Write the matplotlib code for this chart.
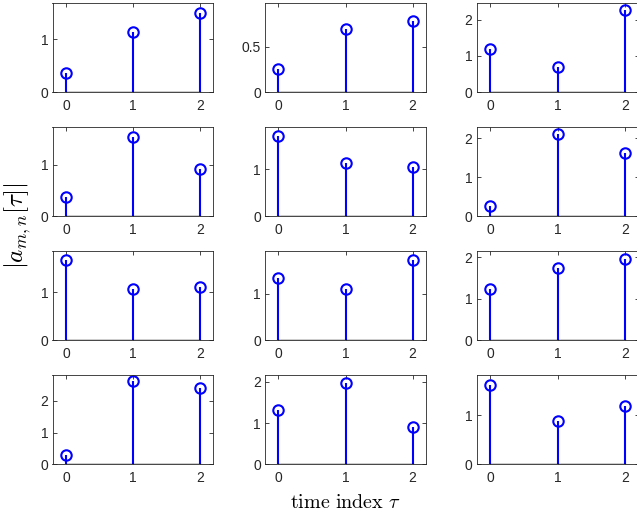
import matplotlib
matplotlib.use("Agg")
import matplotlib.pyplot as plt
import numpy as np
from matplotlib.ticker import FuncFormatter

plt.rcParams['font.family'] = ['Liberation Sans', 'DejaVu Sans']
plt.rcParams['mathtext.fontset'] = 'cm'

tau = [0, 1, 2]
row1 = [[0.366, 1.145, 1.49], [0.254, 0.70, 0.786], [1.196, 0.70, 2.265]]
row2 = [[0.364, 1.54, 0.916], [1.713, 1.128, 1.056], [0.25, 2.093, 1.62]]
row3 = [[1.66, 1.055, 1.10], [1.35, 1.093, 1.728], [1.225, 1.75, 1.96]]
row4 = [[0.283, 2.62, 2.42], [1.325, 1.966, 0.913], [1.62, 0.89, 1.19]]
rows = [row1, row2, row3, row4]

xlabel_text = r'$\mathrm{time\ index}\ \tau$'
ylabel_text = r'$|a_{m,n}[\tau]|$'

W, H = 637, 515
fig = plt.figure(figsize=(W / 100, H / 100), dpi=100)

col_lefts = [52.5, 265.0, 476.5]
col_widths = [161.0, 161.0, 162.0]
row_tops = [2.7, 126.7, 250.7, 375.0]
ax_h = 89.4
gray = '#262626'

fmt = FuncFormatter(lambda v, p: ('%g' % v))

for r, row in enumerate(rows):
    for c, vals in enumerate(row):
        left = col_lefts[c] / W
        bottom = (H - row_tops[r] - ax_h) / H
        ax = fig.add_axes([left, bottom, col_widths[c] / W, ax_h / H])
        ml, sl, bl = ax.stem(tau, vals, linefmt='-', markerfmt='o', basefmt='-')
        sl.set_color((0, 0, 1))
        sl.set_linewidth(1.5)
        ml.set_color((0, 0, 1))
        ml.set_markerfacecolor('none')
        ml.set_markeredgewidth(1.5)
        ml.set_markersize(7.5)
        bl.set_color('black')
        bl.set_linewidth(1.0)
        top = max(vals) + 0.2
        ax.set_xlim(-0.2, 2.2)
        ax.set_ylim(0, top)
        ax.set_xticks(tau)
        if top < 1:
            ax.set_yticks([0, 0.5])
        else:
            ax.set_yticks(list(range(0, int(np.floor(top)) + 1)))
        ax.yaxis.set_major_formatter(fmt)
        ax.tick_params(direction='in', top=True, right=True, length=3,
                       width=0.6, colors=gray, labelsize=10, labelcolor=gray)
        ax.tick_params(axis='x', pad=5)
        ax.tick_params(axis='y', pad=3)
        for s in ax.spines.values():
            s.set_color(gray)
            s.set_linewidth(0.6)

fig.text(18 / W, 1 - 226 / H, ylabel_text, rotation=90, ha='center', va='center',
         fontsize=18)
fig.text(345 / W, 1 - 503 / H, xlabel_text, ha='center', va='center', fontsize=14.5)

fig.savefig('out.png', dpi=100)
